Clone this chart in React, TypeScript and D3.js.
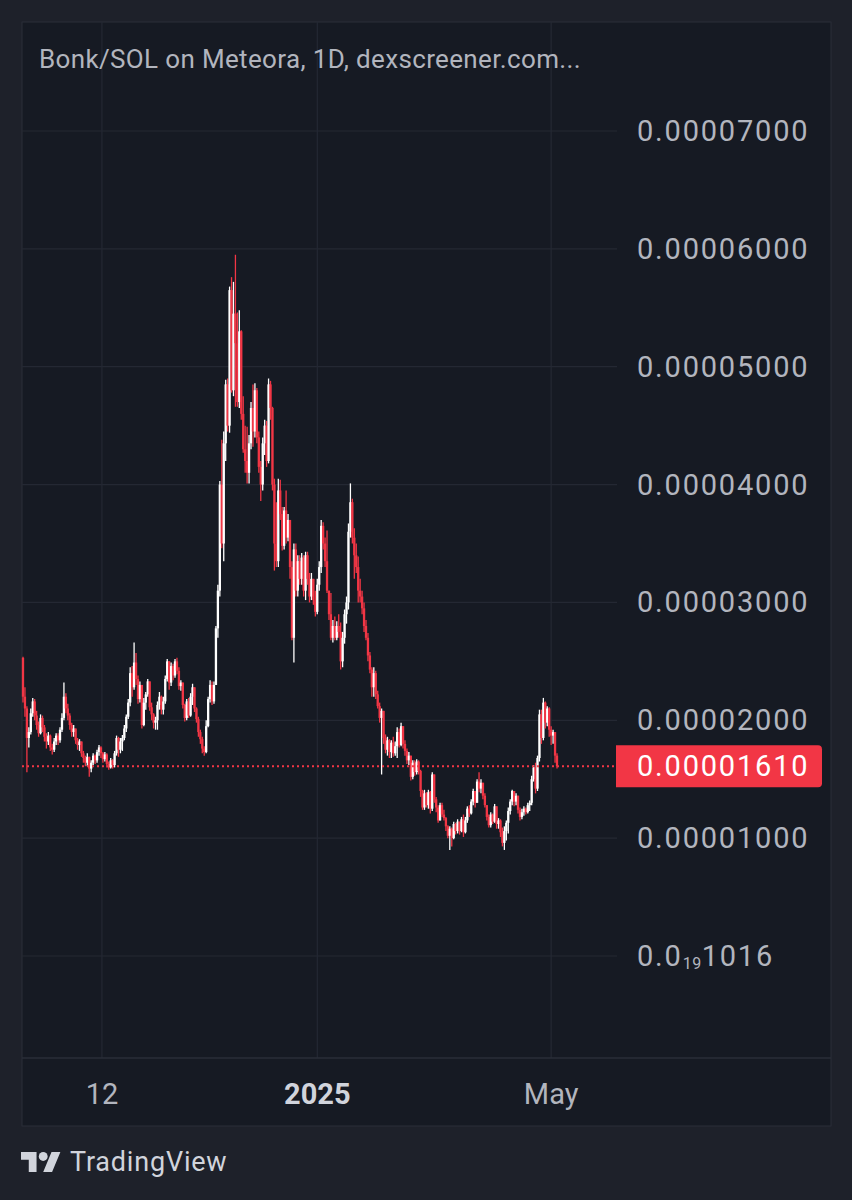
import * as d3 from "d3";

const title = "Bonk/SOL on Meteora, 1D, dexscreener.com...";

// daily candles, prices in units of 1e-6 SOL; open = previous close
const firstOpen = 25.3;
const closes = [
  22.0, 21.0, 18.5, 19.0, 20.6, 21.6, 20.4, 19.6, 18.9, 20.2,
  19.4, 18.6, 18.2, 18.7, 17.7, 17.5, 18.2, 18.7, 18.3, 19.2,
  20.2, 22.0, 21.0, 20.4, 19.6, 19.0, 19.3, 18.3, 17.9, 18.2,
  17.2, 16.8, 16.4, 16.9, 15.9, 16.4, 17.0, 16.6, 17.3, 17.7,
  17.2, 16.7, 17.1, 16.3, 16.0, 16.6, 16.2, 17.2, 18.5, 17.5,
  18.2, 18.5, 19.3, 20.3, 21.5, 24.0, 22.8, 24.9, 23.5, 21.8,
  23.0, 19.6, 21.5, 22.2, 23.3, 21.1, 20.5, 19.8, 20.0, 21.3,
  22.0, 20.9, 21.6, 23.5, 25.0, 23.2, 24.6, 23.8, 25.0, 24.2,
  22.9, 23.2, 21.3, 20.2, 21.6, 20.4, 22.0, 22.8, 21.0, 20.1,
  19.0, 18.4, 17.6, 17.3, 19.5, 21.8, 23.0, 21.6, 23.0, 27.8,
  31.0, 40.0, 35.0, 43.5, 48.5, 45.0, 56.5, 48.0, 54.5, 52.0,
  47.0, 53.0, 46.0, 43.0, 42.0, 41.0, 43.5, 46.5, 44.5, 48.0,
  44.0, 41.5, 40.0, 43.5, 45.0, 42.0, 48.5, 46.5, 40.0, 35.0,
  33.5, 39.5, 37.5, 34.8, 37.8, 35.5, 37.0, 33.0, 27.0, 34.5,
  31.0, 33.5, 32.0, 33.8, 31.0, 34.0, 32.0, 30.5, 32.0, 30.2,
  29.2, 31.5, 33.0, 36.5, 35.0, 33.5, 31.0, 29.0, 27.0, 28.0,
  27.0, 28.0, 27.5, 25.0, 27.0, 29.0, 30.0, 36.0, 38.5, 35.5,
  34.0, 33.0, 31.0, 30.5, 29.5, 28.0, 27.0, 25.5, 24.3, 22.8,
  24.0, 22.2, 21.2, 20.2, 20.8, 18.5, 17.5, 18.3, 17.3, 18.1,
  17.2, 17.8, 19.0, 17.9, 19.5, 18.0, 17.4, 16.6, 17.0, 15.2,
  16.4, 15.6, 16.5, 15.7, 14.0, 12.6, 13.8, 12.8, 13.9, 12.5,
  15.4, 13.3, 12.6, 11.5, 12.8, 12.0, 11.7, 11.0, 10.2, 10.8,
  10.0, 11.2, 10.6, 11.4, 10.6, 11.6, 10.5, 11.5, 12.5, 12.1,
  13.1, 14.0, 13.0, 14.8, 14.2, 14.7, 13.6, 12.8, 11.8, 11.1,
  12.0, 11.4, 12.7, 11.2, 11.5, 10.5, 9.6, 10.6, 11.3, 12.3,
  13.1, 14.0, 13.1, 13.6, 12.4, 11.8, 12.2, 12.5, 12.2, 12.8,
  13.0, 15.0, 16.0, 14.2, 16.8, 20.5, 18.5, 21.5, 19.8, 21.0,
  19.2, 18.7, 19.0, 17.0, 16.1,
];
const highs = [
  25.4, 22.8, 21.2, 19.4, 21.0, 21.9, 21.8, 20.8, 19.9, 20.5,
  20.4, 19.6, 18.9, 19.0, 18.8, 18.0, 18.5, 18.9, 18.9, 19.4,
  20.6, 23.2, 22.3, 21.4, 20.6, 19.8, 19.6, 19.3, 18.5, 18.4,
  18.2, 17.4, 17.0, 17.2, 16.9, 16.6, 17.2, 17.1, 17.5, 17.9,
  17.8, 17.3, 17.3, 17.2, 16.5, 16.8, 16.7, 17.4, 18.7, 18.6,
  18.5, 18.75, 19.6, 20.5, 21.8, 24.5, 24.6, 26.6, 25.7, 23.8,
  23.3, 23.0, 21.9, 22.4, 23.5, 23.3, 21.5, 20.6, 20.3, 21.6,
  22.4, 22.1, 22.0, 23.8, 25.2, 25.0, 24.9, 24.8, 25.2, 25.3,
  24.5, 23.4, 23.2, 21.4, 21.8, 21.9, 22.3, 23.1, 22.8, 21.1,
  20.3, 19.2, 18.6, 17.8, 20.0, 22.0, 23.4, 23.3, 23.3, 28.0,
  31.5, 40.3, 43.8, 44.5, 48.9, 49.0, 56.8, 57.6, 57.2, 59.5,
  54.6, 54.8, 53.1, 47.5, 45.0, 44.9, 44.2, 47.0, 48.5, 48.6,
  48.2, 44.5, 42.0, 44.0, 45.5, 45.4, 49.0, 48.8, 46.6, 40.5,
  38.5, 40.5, 40.4, 38.1, 38.1, 39.5, 37.5, 35.5, 33.5, 35.0,
  35.0, 34.0, 34.0, 34.2, 34.0, 34.3, 34.3, 32.5, 32.5, 32.0,
  31.0, 32.0, 33.5, 37.0, 36.8, 35.5, 36.1, 31.0, 30.8, 28.5,
  28.8, 28.4, 29.0, 28.3, 27.5, 29.4, 30.5, 36.7, 40.1, 38.8,
  36.3, 35.0, 33.9, 32.0, 31.0, 30.0, 28.5, 27.4, 25.8, 24.5,
  24.5, 24.2, 22.5, 21.5, 21.0, 20.5, 18.8, 18.6, 18.4, 18.3,
  18.6, 18.2, 19.4, 19.3, 19.8, 19.5, 18.3, 17.6, 17.3, 17.0,
  16.6, 16.6, 16.7, 16.6, 15.8, 14.1, 14.1, 13.9, 14.1, 14.0,
  15.6, 15.4, 13.5, 12.8, 13.0, 13.0, 12.4, 11.8, 11.1, 11.0,
  10.9, 11.4, 11.3, 11.6, 11.4, 11.8, 12.0, 11.8, 12.7, 12.8,
  13.3, 14.2, 14.0, 15.0, 15.6, 15.0, 14.6, 13.8, 12.8, 12.0,
  12.2, 12.1, 12.9, 12.6, 11.7, 11.6, 10.9, 11.0, 11.5, 12.6,
  13.3, 14.1, 14.0, 13.8, 13.6, 12.6, 12.5, 12.7, 12.6, 13.0,
  13.2, 15.3, 16.2, 16.4, 17.0, 20.9, 20.9, 21.9, 21.6, 21.2,
  21.1, 19.5, 19.2, 19.0, 17.2,
];
const lows = [
  21.5, 20.3, 15.6, 17.7, 18.8, 20.3, 20.0, 19.2, 18.6, 18.8,
  19.0, 18.2, 17.6, 17.9, 17.4, 17.1, 17.3, 17.9, 17.9, 18.1,
  19.0, 20.0, 20.6, 20.0, 19.2, 18.6, 18.6, 18.0, 17.5, 17.4,
  16.9, 16.4, 16.1, 16.1, 15.2, 15.6, 16.2, 16.3, 16.4, 17.0,
  16.8, 16.4, 16.5, 16.0, 15.8, 15.9, 15.9, 16.0, 17.0, 16.9,
  17.2, 17.4, 18.3, 19.0, 20.1, 21.2, 22.0, 22.6, 23.0, 21.4,
  21.5, 19.3, 19.5, 20.9, 22.0, 20.8, 20.0, 19.3, 19.2, 19.2,
  20.9, 20.5, 20.5, 21.4, 23.3, 22.6, 22.9, 23.4, 23.6, 23.9,
  22.6, 22.5, 21.0, 19.9, 20.0, 20.2, 20.3, 21.3, 20.7, 19.8,
  18.6, 18.0, 17.2, 17.0, 17.2, 19.4, 21.5, 21.3, 21.4, 23.0,
  27.0, 30.5, 34.6, 33.5, 42.0, 44.5, 44.4, 47.8, 47.5, 46.6,
  46.6, 46.5, 45.5, 42.7, 41.0, 40.1, 40.1, 43.0, 43.2, 44.0,
  43.5, 41.0, 38.6, 39.5, 42.5, 41.5, 41.8, 45.5, 39.5, 32.7,
  33.0, 33.0, 37.0, 34.4, 34.5, 35.0, 35.2, 32.0, 26.8, 24.9,
  30.5, 30.5, 31.5, 31.5, 30.5, 30.2, 31.5, 30.0, 30.2, 29.8,
  28.8, 29.0, 31.0, 32.5, 34.5, 33.0, 30.8, 28.5, 26.8, 26.6,
  26.8, 26.8, 27.0, 24.3, 24.5, 26.5, 28.2, 29.4, 35.5, 35.0,
  32.0, 32.5, 30.0, 30.0, 29.0, 27.5, 26.8, 25.0, 24.0, 22.0,
  22.0, 21.8, 21.0, 19.8, 15.4, 18.0, 17.2, 17.0, 16.8, 16.8,
  16.9, 17.0, 16.8, 17.7, 17.8, 17.6, 17.0, 16.3, 16.2, 14.9,
  15.0, 15.3, 15.4, 15.4, 13.5, 12.4, 12.4, 12.6, 12.5, 12.1,
  12.3, 13.0, 12.2, 11.3, 11.5, 11.8, 11.5, 10.6, 10.0, 9.0,
  9.3, 9.9, 10.3, 10.4, 10.3, 10.5, 10.1, 10.4, 11.3, 11.8,
  12.0, 12.8, 12.6, 13.0, 13.9, 13.8, 13.3, 12.6, 11.5, 10.9,
  10.9, 11.2, 11.3, 10.8, 10.8, 10.1, 9.3, 9.0, 9.8, 10.4,
  12.0, 12.8, 12.7, 12.8, 12.1, 11.5, 11.6, 11.9, 12.0, 12.1,
  12.3, 12.8, 14.8, 13.8, 14.0, 16.5, 18.0, 18.3, 19.3, 19.5,
  18.6, 17.9, 18.0, 16.4, 15.9,
];

const priceTicks = [0, 10, 20, 30, 40, 50, 60, 70];
const priceLabels = ["", "0.00001000", "0.00002000", "0.00003000", "0.00004000", "0.00005000", "0.00006000", "0.00007000"];
// the zero line is labelled with TradingView's subscript notation 0.0₁₉1016
const zeroLabel = { lead: "0.0", sub: "19", tail: "1016" };

const lastPrice = 16.1;
const lastPriceLabel = "0.00001610";

const timeTicks = [40.5, 151, 271];
const timeLabels = ["12", "2025", "May"];
const timeBold = [false, true, false];

const UP = "#ffffff";
const DOWN = "#f23645";
const TEXT = "#b2b5be";
const GRID = "#242833";
const FONT = "Roboto, 'Noto Sans', sans-serif";

export default function App() {
  const W = 852;
  const H = 1200;
  const pane = { left: 22, top: 22, right: 831, bottom: 1126 };
  const plotRight = 617;
  const plotBottom = 1058;

  const x = d3.scaleLinear().domain([0, closes.length - 1]).range([23, 557]);
  const y = d3.scaleLinear().domain([0, 70]).range([956, 131]);

  const candles = closes.map((c, i) => {
    const o = i === 0 ? firstOpen : closes[i - 1];
    const h = Math.max(highs[i], o, c);
    const l = Math.min(lows[i], o, c);
    return { i, o, h, l, c, up: c >= o };
  });

  const bodyW = 2.3;
  const py = y(lastPrice);

  return (
    <div style={{ position: "absolute", left: 0, top: 0 }}>
      <svg width={W} height={H} style={{ display: "block" }} fontFamily={FONT}>
        <rect x={0} y={0} width={W} height={H} fill="#1e212a" />
        <rect
          x={pane.left}
          y={pane.top}
          width={pane.right - pane.left}
          height={pane.bottom - pane.top}
          fill="#161a23"
          stroke="#2a2e39"
          strokeWidth={1}
        />

        {/* grid */}
        {priceTicks.map((t) => (
          <line key={"h" + t} x1={pane.left} x2={plotRight} y1={y(t)} y2={y(t)} stroke={GRID} strokeWidth={1.2} />
        ))}
        {timeTicks.map((t) => (
          <line key={"v" + t} x1={x(t)} x2={x(t)} y1={pane.top} y2={plotBottom} stroke={GRID} strokeWidth={1.2} />
        ))}
        <line x1={pane.left} x2={pane.right} y1={plotBottom} y2={plotBottom} stroke="#2a2e39" strokeWidth={1.5} />

        {/* title */}
        <text x={39} y={68} fontSize={26} letterSpacing={0.35} fill={TEXT}>
          {title}
        </text>

        {/* candles */}
        {candles.map((d) => {
          const col = d.up ? UP : DOWN;
          const cx = x(d.i);
          const top = y(Math.max(d.o, d.c));
          const bot = y(Math.min(d.o, d.c));
          return (
            <g key={d.i}>
              <line x1={cx} x2={cx} y1={y(d.h)} y2={y(d.l)} stroke={col} strokeWidth={1.3} />
              <rect x={cx - bodyW / 2} y={top} width={bodyW} height={Math.max(1, bot - top)} fill={col} />
            </g>
          );
        })}

        {/* last price line */}
        <line x1={pane.left} x2={plotRight} y1={py} y2={py} stroke={DOWN} strokeWidth={2} strokeDasharray="2 3" />

        {/* price scale */}
        {priceTicks.map((t, k) =>
          t === 0 ? (
            <text key={"p" + t} x={637} y={y(t)} dominantBaseline="central" fontSize={29} letterSpacing={1.8} fill={TEXT}>
              {zeroLabel.lead}
              <tspan fontSize={16} dy={7} letterSpacing={0.5}>{zeroLabel.sub}</tspan>
              <tspan fontSize={29} dy={-7} letterSpacing={1.8}>{zeroLabel.tail}</tspan>
            </text>
          ) : (
            <text key={"p" + t} x={637} y={y(t)} dominantBaseline="central" fontSize={29} letterSpacing={1.8} fill={TEXT}>
              {priceLabels[k]}
            </text>
          )
        )}
        <path
          d={`M616,${py - 21} H818 a4,4 0 0 1 4,4 V${py + 17} a4,4 0 0 1 -4,4 H616 Z`}
          fill={DOWN}
        />
        <text x={637} y={py} dominantBaseline="central" fontSize={29} letterSpacing={1.8} fill="#ffffff">
          {lastPriceLabel}
        </text>

        {/* time scale */}
        {timeTicks.map((t, k) => (
          <text
            key={"t" + t}
            x={x(t)}
            y={1094}
            textAnchor="middle"
            dominantBaseline="central"
            fontSize={29}
            fontWeight={timeBold[k] ? 700 : 400}
            fill={timeBold[k] ? "#d1d4dc" : TEXT}
          >
            {timeLabels[k]}
          </text>
        ))}

        {/* brand */}
        <g transform="translate(21,1147.6) scale(1.11)" fill="#d1d4dc">
          <path d="M14 22H7V11H0V4h14v18zM28 22h-8l7.5-18h8L28 22z" />
          <circle cx={20} cy={8} r={4} />
        </g>
        <text x={70} y={1162} dominantBaseline="central" fontSize={27} letterSpacing={0.8} fill="#d1d4dc">
          TradingView
        </text>
      </svg>
    </div>
  );
}
